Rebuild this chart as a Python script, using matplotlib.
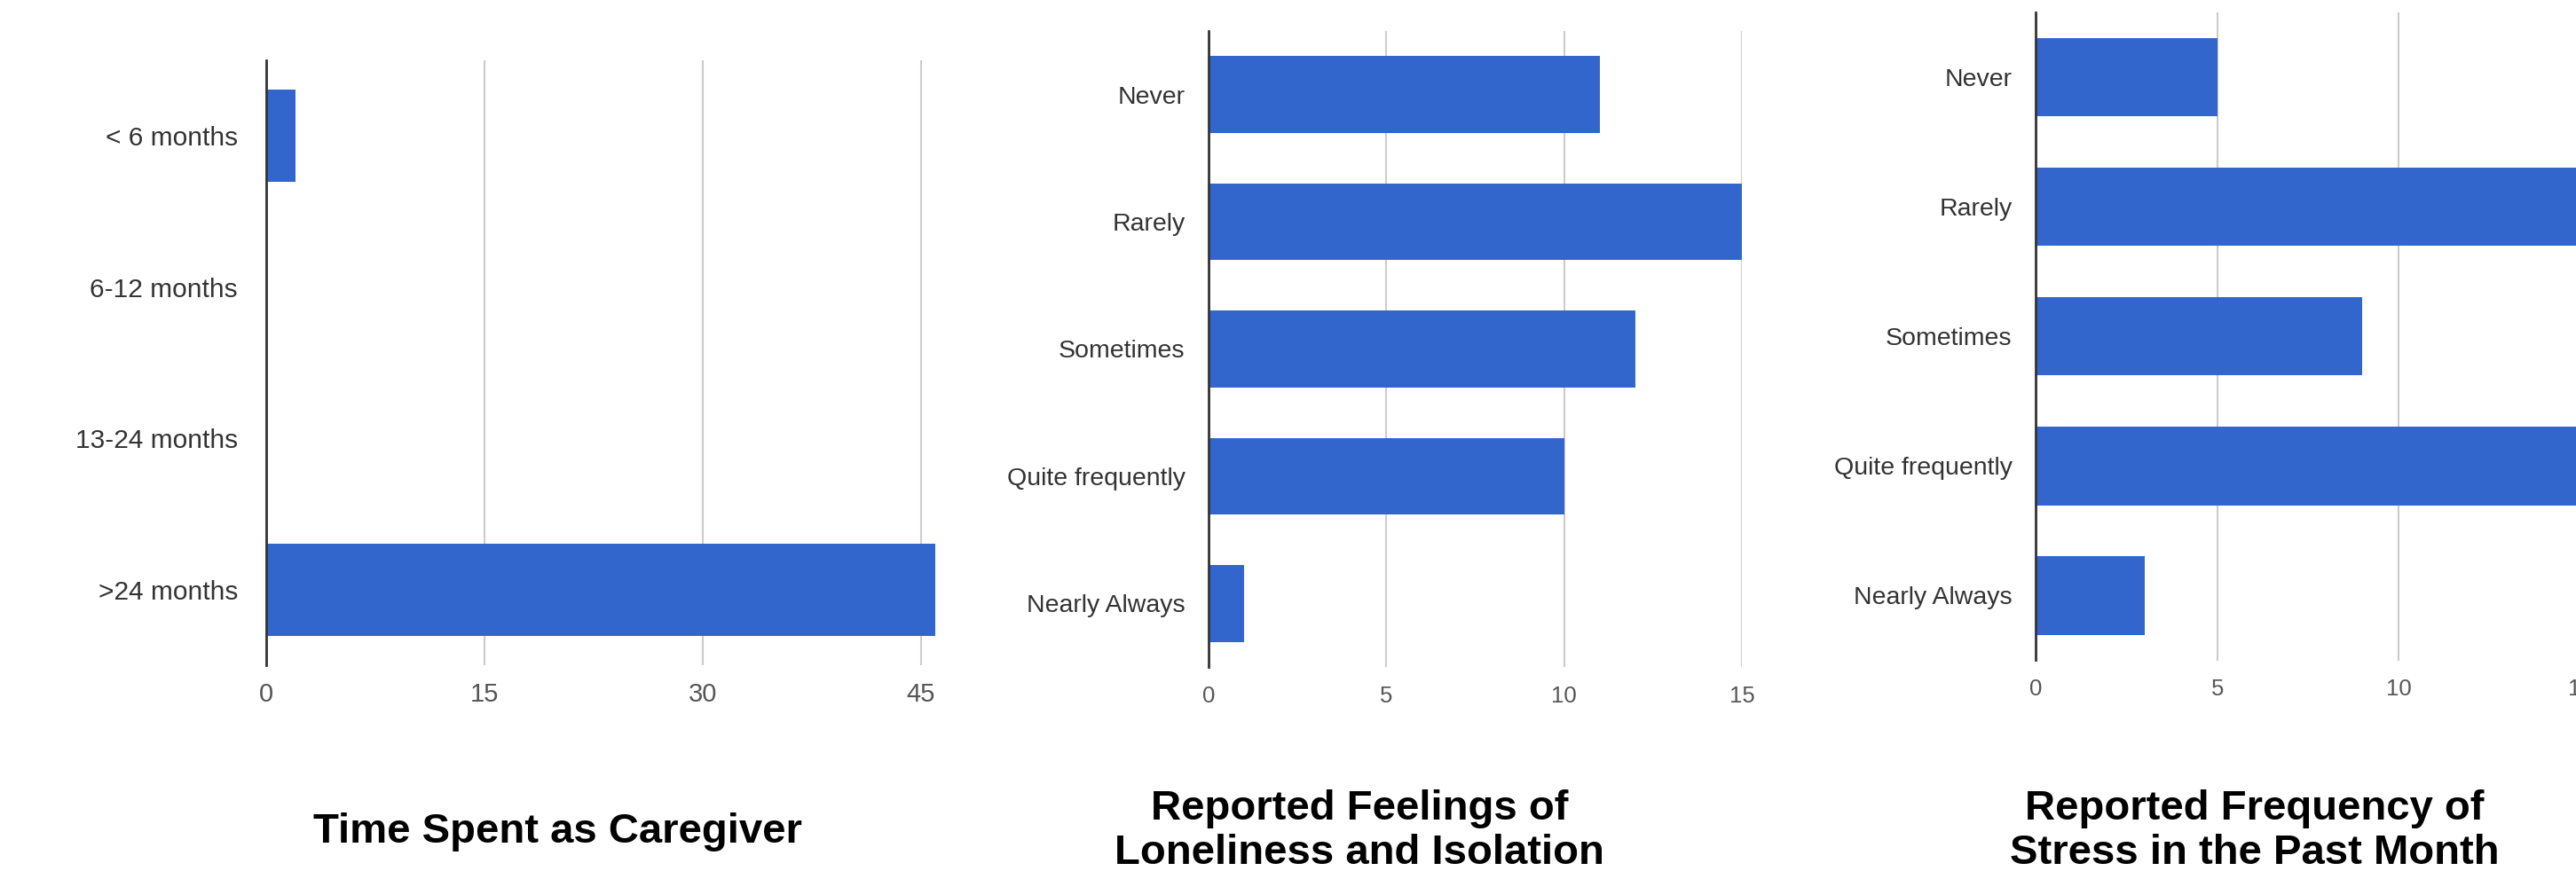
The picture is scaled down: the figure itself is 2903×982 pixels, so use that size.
import matplotlib
matplotlib.use("Agg")
import matplotlib.pyplot as plt

plt.rcParams['font.family'] = ['Liberation Sans', 'DejaVu Sans']

# donnees
time_labels = ["< 6 months", "6-12 months", "13-24 months", ">24 months"]
time_counts = [2, 0, 0, 46]

freq_labels = ["Never", "Rarely", "Sometimes", "Quite frequently", "Nearly Always"]
lonely_counts = [11, 15, 12, 10, 1]
stress_counts = [5, 16, 9, 16, 3]

BLUE = "#3366cc"
W, H = 2903., 982.

fig = plt.figure(figsize=(W / 100, H / 100), dpi=100)


def box(left, right, top, bottom):
    return [left / W, 1 - bottom / H, (right - left) / W, (bottom - top) / H]


def style(ax, labels, ticks, lab_size, tick_size, tick_pad):
    ax.set_yticks(range(len(labels)))
    ax.set_yticklabels(labels, fontsize=lab_size, color="#333333")
    ax.set_ylim(len(labels) - 0.5, -0.5)
    ax.set_xticks(ticks)
    ax.set_xticklabels([str(t) for t in ticks], fontsize=tick_size, color="#555555")
    ax.tick_params(axis="y", length=0, pad=19)
    ax.tick_params(axis="x", length=0, pad=tick_pad)
    for s in ["top", "right", "bottom"]:
        ax.spines[s].set_visible(False)
    ax.spines["left"].set_color("#333333")
    ax.spines["left"].set_linewidth(2)
    ax.spines["left"].set_zorder(5)
    ax.xaxis.grid(True, color="#cccccc", linewidth=1.5)
    ax.set_axisbelow(True)


#PANEL 1
ax1 = fig.add_axes(box(300, 300 + 46 * 16.4, 68, 750))
ax1.barh(range(len(time_labels)), time_counts, height=0.61, color=BLUE, zorder=3)
ax1.set_xlim(0, 46)
style(ax1, time_labels, [0, 15, 30, 45], 21.5, 21, 14)
ax1.tick_params(axis="y", pad=23)

#PANEL 2
ax2 = fig.add_axes(box(1362, 1963, 35, 752))
ax2.barh(range(len(freq_labels)), lonely_counts, height=0.605, color=BLUE, zorder=3)
ax2.set_xlim(0, 15)
style(ax2, freq_labels, [0, 5, 10, 15], 20.5, 18.5, 15)

#PANEL 3 (coupe a droite comme l'original)
ax3 = fig.add_axes(box(2294, 2294 + 15 * 40.94, 14, 744.5))
ax3.barh(range(len(freq_labels)), stress_counts, height=0.605, color=BLUE, zorder=3)
ax3.set_xlim(0, 15)
style(ax3, freq_labels, [0, 5, 10, 15], 20.5, 18.5, 15)

#titres
fig.text(628 / W, 1 - 938 / H, "Time Spent as Caregiver", fontsize=34,
         fontweight="bold", ha="center", va="center")
fig.text(1532 / W, 1 - 937 / H, "Reported Feelings of\nLoneliness and Isolation",
         fontsize=34, fontweight="bold", ha="center", va="center")
fig.text(2541 / W, 1 - 937 / H, "Reported Frequency of\nStress in the Past Month",
         fontsize=34, fontweight="bold", ha="center", va="center")

fig.savefig("out.png", dpi=100)
